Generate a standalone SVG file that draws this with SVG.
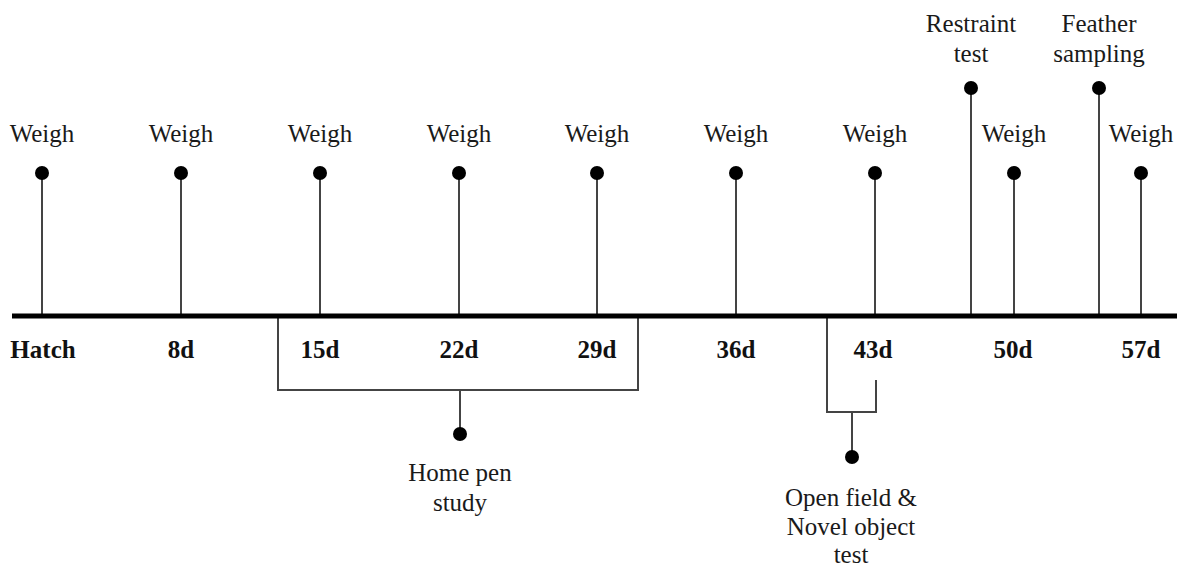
<svg xmlns="http://www.w3.org/2000/svg" width="1182" height="569" viewBox="0 0 1182 569">
<style>
.t{font-family:'Liberation Serif','Times New Roman','DejaVu Serif',serif;font-size:25px;fill:#1a1a1a;text-anchor:middle}
.d{font-family:'Liberation Serif','Times New Roman','DejaVu Serif',serif;font-size:25px;font-weight:bold;fill:#111;text-anchor:middle}
.s{stroke:#444;stroke-width:2;fill:none}
.dot{fill:#000}
</style>
<rect width="1182" height="569" fill="#fff"/>
<g id="connectors">
<line class="s" x1="42" y1="173" x2="42" y2="316"/>
<line class="s" x1="181" y1="173" x2="181" y2="316"/>
<line class="s" x1="320" y1="173" x2="320" y2="316"/>
<line class="s" x1="459" y1="173" x2="459" y2="316"/>
<line class="s" x1="597" y1="173" x2="597" y2="316"/>
<line class="s" x1="736" y1="173" x2="736" y2="316"/>
<line class="s" x1="875" y1="173" x2="875" y2="316"/>
<line class="s" x1="971" y1="88" x2="971" y2="316"/>
<line class="s" x1="1014" y1="173" x2="1014" y2="316"/>
<line class="s" x1="1099" y1="88" x2="1099" y2="316"/>
<line class="s" x1="1141" y1="173" x2="1141" y2="316"/>
<polyline class="s" points="278,317 278,390 638,390 638,317"/>
<line class="s" x1="460" y1="390" x2="460" y2="434"/>
<polyline class="s" points="827,317 827,412 876,412 876,380"/>
<line class="s" x1="852" y1="412" x2="852" y2="457"/>
</g>
<g id="timeline">
<line x1="12" y1="316" x2="1177" y2="316" stroke="#000" stroke-width="5"/>
</g>
<g id="weigh-hatch"><circle class="dot" cx="42" cy="173" r="7"/><text class="t" x="42" y="142">Weigh</text><text class="d" x="43" y="358">Hatch</text></g>
<g id="weigh-8d"><circle class="dot" cx="181" cy="173" r="7"/><text class="t" x="181" y="142">Weigh</text><text class="d" x="181" y="358">8d</text></g>
<g id="weigh-15d"><circle class="dot" cx="320" cy="173" r="7"/><text class="t" x="320" y="142">Weigh</text><text class="d" x="320" y="358">15d</text></g>
<g id="weigh-22d"><circle class="dot" cx="459" cy="173" r="7"/><text class="t" x="459" y="142">Weigh</text><text class="d" x="459" y="358">22d</text></g>
<g id="weigh-29d"><circle class="dot" cx="597" cy="173" r="7"/><text class="t" x="597" y="142">Weigh</text><text class="d" x="597" y="358">29d</text></g>
<g id="weigh-36d"><circle class="dot" cx="736" cy="173" r="7"/><text class="t" x="736" y="142">Weigh</text><text class="d" x="736" y="358">36d</text></g>
<g id="weigh-43d"><circle class="dot" cx="875" cy="173" r="7"/><text class="t" x="875" y="142">Weigh</text><text class="d" x="873" y="358">43d</text></g>
<g id="restraint"><circle class="dot" cx="971" cy="88" r="7"/><text class="t" x="971" y="32">Restraint</text><text class="t" x="971" y="62">test</text></g>
<g id="weigh-50d"><circle class="dot" cx="1014" cy="173" r="7"/><text class="t" x="1014" y="142">Weigh</text><text class="d" x="1013" y="358">50d</text></g>
<g id="feather"><circle class="dot" cx="1099" cy="88" r="7"/><text class="t" x="1099" y="32">Feather</text><text class="t" x="1099" y="62">sampling</text></g>
<g id="weigh-57d"><circle class="dot" cx="1141" cy="173" r="7"/><text class="t" x="1141" y="142">Weigh</text><text class="d" x="1141" y="358">57d</text></g>
<g id="home-pen"><circle class="dot" cx="460" cy="434" r="7"/><text class="t" x="460" y="481">Home pen</text><text class="t" x="460" y="511">study</text></g>
<g id="open-field"><circle class="dot" cx="852" cy="457" r="7"/><text class="t" x="851" y="506">Open field &amp;</text><text class="t" x="851" y="535">Novel object</text><text class="t" x="851" y="563">test</text></g>
</svg>
